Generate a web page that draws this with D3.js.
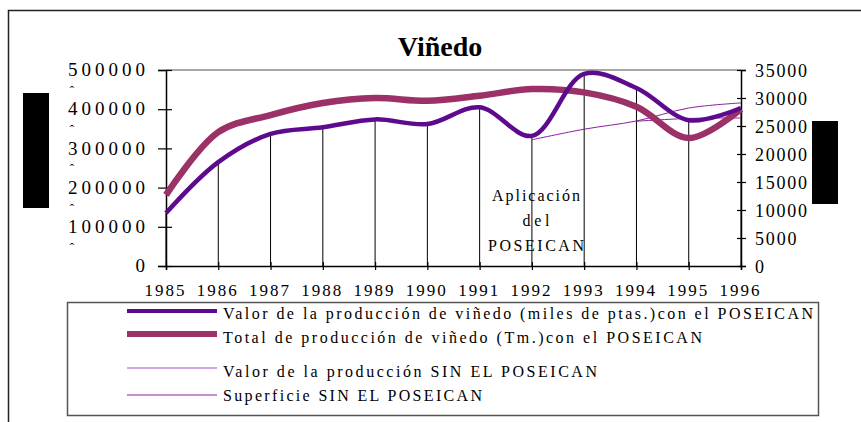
<!DOCTYPE html>
<meta charset="utf-8">
<style type="text/css">
    body{
      margin: 0;
      background: #fff;
    }
    svg{
      display: block;
    }
    text {
      font-family: "Liberation Serif", "Times New Roman", serif;
      fill: #000;
    }
</style>
<body>
<script src="https://cdn.jsdelivr.net/npm/d3@7/dist/d3.min.js"></script>
<script>

//years on the category axis
var years = [1985, 1986, 1987, 1988, 1989, 1990, 1991, 1992, 1993, 1994, 1995, 1996];

//valor de la produccion con el POSEICAN (miles de ptas.) - left axis
var valorCon = [135000, 265000, 337000, 354000, 374000, 362000, 405000, 332000, 490000, 454000, 372000, 403000];

//total de produccion (Tm.) con el POSEICAN - right axis
var totalCon = [12700, 23900, 26950, 29100, 30000, 29500, 30400, 31600, 31000, 28450, 22860, 28040];

//valor de la produccion SIN EL POSEICAN - left axis, from 1992
var valorSinYears = [1992, 1993, 1994, 1995, 1996];
var valorSin = [322000, 349000, 370000, 403000, 416000];

//superficie SIN EL POSEICAN - right axis, from 1994
var superficieYears = [1994, 1995, 1996];
var superficie = [25850, 26350, 26430];

//tick labels
var leftTicks  = [0, 100000, 200000, 300000, 400000, 500000];
var rightTicks = [0, 5000, 10000, 15000, 20000, 25000, 30000, 35000];

var legendLabels = [
  "Valor de la producción de viñedo (miles de ptas.)con el POSEICAN",
  "Total de producción de viñedo (Tm.)con el POSEICAN",
  "Valor de la producción SIN EL POSEICAN",
  "Superficie SIN EL POSEICAN"
];

var purple = "#5e0a8e",
    pink   = "#9b3166",
    thin   = "#8a22a0";

var svg = d3.select("body")
  .append("svg")
  .attr("width", 861)
  .attr("height", 422);

//outer chart border
svg.append("path")
  .attr("d", "M8.5,430V10.5H870")
  .attr("fill", "none")
  .attr("stroke", "#222")
  .attr("stroke-width", 1.5);

//black blocks on both sides
svg.append("rect").attr("x", 23).attr("y", 93).attr("width", 26).attr("height", 115).attr("fill", "#000");
svg.append("rect").attr("x", 812).attr("y", 121).attr("width", 26).attr("height", 83).attr("fill", "#000");

//title
svg.append("text")
  .attr("x", 440)
  .attr("y", 56)
  .attr("text-anchor", "middle")
  .style("font-size", "28px")
  .style("font-weight", "bold")
  .text("Viñedo");

//scales
var x = d3.scaleLinear().domain([1985, 1996]).range([166, 741]);
var yL = d3.scaleLinear().domain([0, 500000]).range([266, 70]);
var yR = d3.scaleLinear().domain([0, 35000]).range([266, 70]);

//plot area top border
svg.append("line")
  .attr("x1", x(1985)).attr("x2", x(1996))
  .attr("y1", yL(500000)).attr("y2", yL(500000))
  .attr("stroke", "#8a8a8a")
  .attr("stroke-width", 1.5);

//drop lines from the axis up to the valor series
svg.append("g").selectAll("line")
  .data(years)
  .enter().append("line")
  .attr("x1", function(d){ return x(d); })
  .attr("x2", function(d){ return x(d); })
  .attr("y1", yL(0))
  .attr("y2", function(d, i){ return yL(valorCon[i]); })
  .attr("stroke", "#000")
  .attr("stroke-width", 1);

//annotation
var note = svg.append("text")
  .attr("text-anchor", "middle")
  .style("font-size", "16px");
[["Aplicación", 201, 88], ["del", 226, 27], ["POSEICAN", 251, 96]].forEach(function(l){
  note.append("tspan")
    .attr("x", 536)
    .attr("y", l[1])
    .attr("textLength", l[2])
    .attr("lengthAdjust", "spacing")
    .text(l[0]);
});

//axes
var axisLeft = svg.append("g")
  .attr("transform", "translate(" + x(1985) + ",0)")
  .call(d3.axisLeft(yL).tickValues(leftTicks).tickSize(8).tickPadding(13).tickFormat(d3.format("d")));

var axisRight = svg.append("g")
  .attr("transform", "translate(" + x(1996) + ",0)")
  .call(d3.axisRight(yR).tickValues(rightTicks).tickSize(5).tickPadding(9).tickFormat(d3.format("d")));

var axisBottom = svg.append("g")
  .attr("transform", "translate(0," + yL(0) + ")")
  .call(d3.axisBottom(x).tickValues(years).tickSize(4).tickPadding(14).tickFormat(d3.format("d")));

[axisLeft, axisRight, axisBottom].forEach(function(a){
  a.select(".domain").attr("stroke", "#000").attr("stroke-width", 1.5);
  a.selectAll(".tick line").attr("stroke", "#000").attr("stroke-width", 1.2);
  a.selectAll("text").attr("font-family", null).attr("fill", "#000");
});

axisLeft.selectAll(".tick line").attr("x1", 6);
axisLeft.selectAll("text")
  .style("font-size", "19px")
  .attr("dy", "0.3em")
  .attr("textLength", function(d){ return String(d).length > 1 ? 77 : null; })
  .attr("lengthAdjust", "spacing");

axisRight.selectAll(".tick line").attr("x1", -4);
axisRight.selectAll("text")
  .style("font-size", "18px")
  .attr("dy", "0.38em")
  .attr("textLength", function(d){ return String(d).length > 1 ? String(d).length * 10.4 : null; })
  .attr("lengthAdjust", "spacing");

axisBottom.selectAll(".tick line").attr("y1", -4);
axisBottom.selectAll("text")
  .style("font-size", "17px")
  .attr("dy", "0.71em")
  .attr("x", -2)
  .attr("textLength", 40)
  .attr("lengthAdjust", "spacing");

//small marks under the left labels
svg.append("g").selectAll("text")
  .data(leftTicks.filter(function(d){ return d > 0; }))
  .enter().append("text")
  .attr("x", 72)
  .attr("y", function(d){ return yL(d) + 25; })
  .attr("text-anchor", "middle")
  .style("font-size", "13px")
  .text("ˆ");

//lines
function makeLine(xs, ys, scale){
  return d3.line()
    .x(function(d, i){ return x(xs[i]); })
    .y(function(d){ return scale(d); })
    .curve(d3.curveCatmullRom.alpha(0.5))(ys);
}

svg.append("path")
  .attr("d", makeLine(valorSinYears, valorSin, yL))
  .attr("fill", "none").attr("stroke", thin).attr("stroke-width", 1);

svg.append("path")
  .attr("d", makeLine(superficieYears, superficie, yR))
  .attr("fill", "none").attr("stroke", thin).attr("stroke-width", 1);

svg.append("path")
  .attr("d", makeLine(years, totalCon, yR))
  .attr("fill", "none").attr("stroke", pink).attr("stroke-width", 6.5)
  .attr("stroke-linejoin", "round");

svg.append("path")
  .attr("d", makeLine(years, valorCon, yL))
  .attr("fill", "none").attr("stroke", purple).attr("stroke-width", 4.5)
  .attr("stroke-linejoin", "round");

//legend
svg.append("rect")
  .attr("x", 67.5).attr("y", 302.5)
  .attr("width", 751).attr("height", 113)
  .attr("fill", "none")
  .attr("stroke", "#555")
  .attr("stroke-width", 1.5);

var legendRows = [
  {y: 311, text: 319, len: 590, color: purple, w: 4},
  {y: 334, text: 343, len: 479, color: pink, w: 6},
  {y: 368, text: 377, len: 374, color: "#9a55c0", w: 1.2},
  {y: 395, text: 401, len: 259, color: thin, w: 1.2}
];

var legend = svg.append("g").selectAll("g")
  .data(legendRows)
  .enter().append("g");

legend.append("line")
  .attr("x1", 127).attr("x2", 217)
  .attr("y1", function(d){ return d.y; })
  .attr("y2", function(d){ return d.y; })
  .attr("stroke", function(d){ return d.color; })
  .attr("stroke-width", function(d){ return d.w; });

legend.append("text")
  .attr("x", 223)
  .attr("y", function(d){ return d.text; })
  .attr("textLength", function(d){ return d.len; })
  .attr("lengthAdjust", "spacing")
  .style("font-size", "16px")
  .text(function(d, i){ return legendLabels[i]; });

</script>
